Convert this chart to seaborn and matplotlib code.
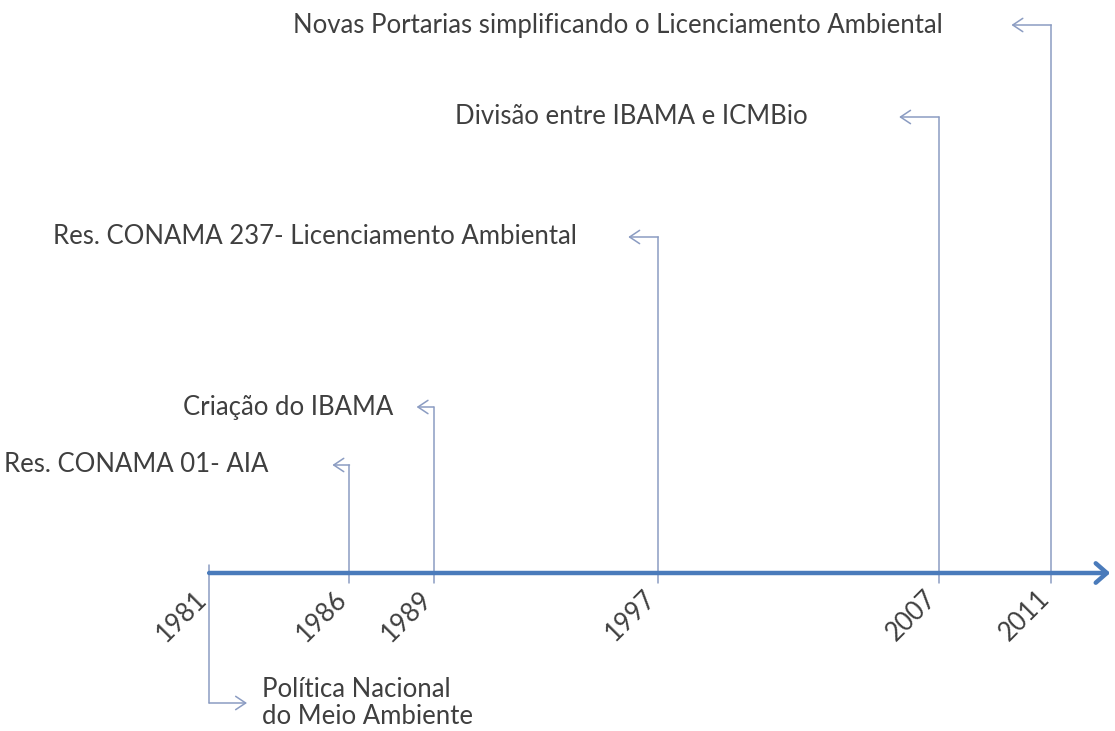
import pandas as pd
import seaborn as sns
import matplotlib.pyplot as plt

# timeline data
years = [1981, 1986, 1989, 1997, 2007, 2011]
events = [
    "Política Nacional\ndo Meio Ambiente",
    "Res. CONAMA 01- AIA",
    "Criação do IBAMA",
    "Res. CONAMA 237- Licenciamento Ambiental",
    "Divisão entre IBAMA e ICMBio",
    "Novas Portarias simplificando o Licenciamento Ambiental",
]

# layout (callout height, arrow length and label offset per event, in axis units)
levels = [-130, 108, 166, 336, 456, 548]
arrow_len = [1.35, 0.61, 0.61, 1.07, 1.42, 1.42]
label_off = [1.89, 2.9, 1.45, 2.89, 4.67, 3.88]

sns.set_style("white")
plt.rcParams["font.family"] = ["Lato", "DejaVu Sans"]

axis_col = "#4a7bbb"
line_col = "#8b9cc2"
text_col = "#3f3f3f"
fs = 18.5

fig = plt.figure(figsize=(11.15, 7.31), dpi=100)
ax = fig.add_axes([0, 0, 1, 1])
ax.set_xlim(1973.55, 2013.27)
ax.set_ylim(-158, 573)
ax.axis("off")

# vertical connectors
rows = []
for yr, lv in zip(years, levels):
    start = 8 if lv < 0 else -10
    rows.append({"event": yr, "x": yr, "y": start})
    rows.append({"event": yr, "x": yr, "y": lv})
df = pd.DataFrame(rows)
sns.lineplot(data=df, x="x", y="y", units="event", estimator=None, sort=False,
             color=line_col, lw=1.1, ax=ax)

# horizontal arrows and labels
for yr, lv, ev, al, lo in zip(years, levels, events, arrow_len, label_off):
    if lv < 0:
        tip = yr + al
        ax.text(yr + lo, lv, ev, ha="left", va="center", fontsize=fs,
                color=text_col, linespacing=1.08)
    else:
        tip = yr - al
        ax.text(yr - lo, lv, ev, ha="right", va="center", fontsize=fs,
                color=text_col)
    ax.annotate("", xy=(tip, lv), xytext=(yr, lv),
                arrowprops=dict(arrowstyle="->,head_length=0.6,head_width=0.4",
                                color=line_col, lw=1.1, mutation_scale=12,
                                shrinkA=0, shrinkB=0))
    ax.text(yr + 0.1, -13, str(yr), rotation=45, ha="right", va="top",
            fontsize=fs, color=text_col)

# main time axis
ax.annotate("", xy=(2013.1, 0), xytext=(1981, 0),
            arrowprops=dict(arrowstyle="->,head_length=0.4,head_width=0.35",
                            color=axis_col, lw=3.2, mutation_scale=20,
                            shrinkA=0, shrinkB=0))

fig.savefig("out.png", dpi=100)
